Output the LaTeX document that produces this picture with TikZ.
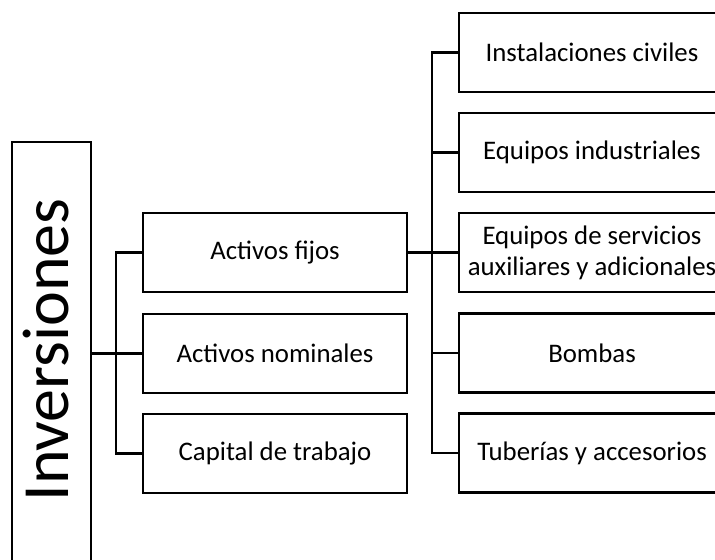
\documentclass[tikz,border=0pt]{standalone}
\usepackage{fontspec}
\setmainfont{Carlito}
\begin{document}
\begin{tikzpicture}[x=0.5pt,y=-0.5pt,line width=1.15pt,
  box/.style={draw,rectangle,inner sep=0pt,align=center,font=\fontsize{13.4}{15.5}\selectfont},
  midbox/.style={box,minimum width=132pt,minimum height=39.5pt},
  rbox/.style={box,minimum width=133pt,minimum height=39.5pt}]
\useasboundingbox (0,0) rectangle (715,560);
\node[draw,rectangle,minimum width=39.5pt,minimum height=229pt] (inv) at (51.5,371) {};
\node[rotate=90,anchor=base,inner sep=0pt,font=\fontsize{33}{38}\selectfont] (invtext) at (68,350) {Inversiones};
\node[midbox] (af) at (275,252.5) {Activos fijos};
\node[midbox] (an) at (275,353.5) {Activos nominales};
\node[midbox] (ct) at (275,453.5) {Capital de trabajo};
\node[rbox] (r1) at (592,52.5) {Instalaciones civiles};
\node[rbox] (r2) at (592,152.5) {Equipos industriales};
\node[rbox] (r3) at (592,252.5) {Equipos de servicios\\auxiliares y adicionales};
\node[rbox] (r4) at (592,353) {Bombas};
\node[rbox] (r5) at (592,453) {Tuberías y accesorios};
\draw (inv.east |- an.west) -- (an.west);
\draw (af.west) -- ++(-13pt,0) |- (ct.west);
\draw (af.east) -- (r3.west);
\draw (r1.west) -- ++(-13pt,0) |- (r5.west);
\draw (r2.west) -- ++(-13pt,0);
\draw (r4.west) -- ++(-13pt,0);
\end{tikzpicture}
\end{document}
